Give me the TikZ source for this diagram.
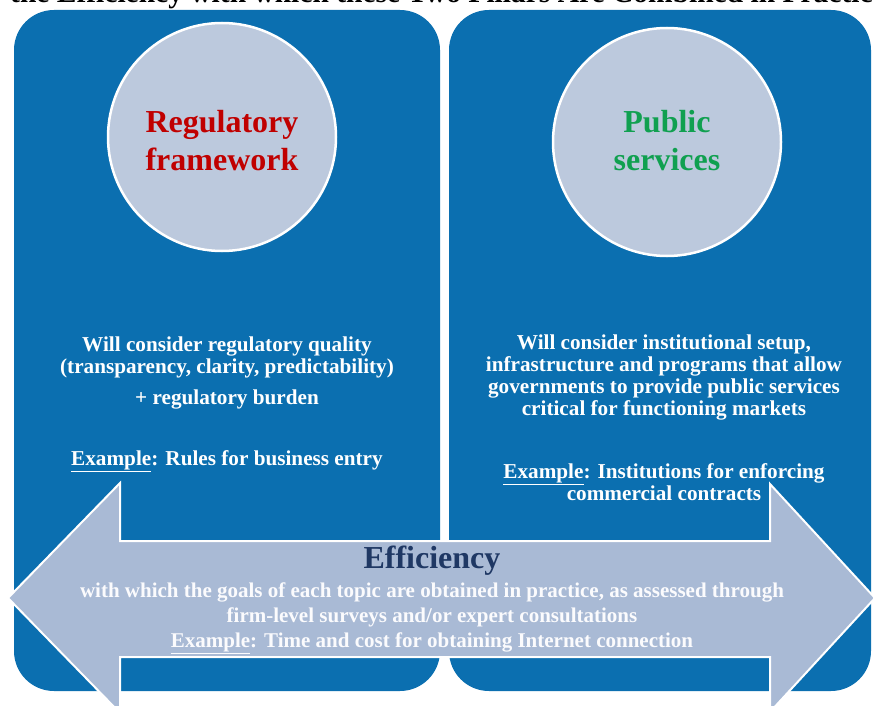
\documentclass[tikz,border=0pt]{standalone}
\usepackage{fontspec}
\setmainfont{Liberation Serif}
\usepackage{xcolor}
\definecolor{panelblue}{HTML}{0B6FB0}
\definecolor{disc}{HTML}{BCC9DD}
\definecolor{arrowfill}{HTML}{A9BAD5}
\definecolor{navy}{HTML}{1F3864}
\definecolor{regred}{HTML}{C00000}
\definecolor{pubgreen}{HTML}{10A050}
\tikzset{
  panel/.style={fill=panelblue, rounded corners=40pt},
  pillar/.style={circle, fill=disc, draw=white, line width=2.5pt, minimum size=228pt, inner sep=0pt},
  pillarname/.style={align=center, font=\bfseries\fontsize{32}{38}\selectfont},
  body/.style={text=white, align=center, font=\bfseries\fontsize{21.2}{22}\selectfont},
  effarrow/.style={fill=arrowfill, draw=white, line width=2pt, line join=miter},
  effbody/.style={text=white!95!arrowfill, align=center, font=\bfseries\fontsize{21}{25}\selectfont},
}

\begin{document}
\begin{tikzpicture}[x=1pt, y=-1pt]
  \useasboundingbox (0,0) rectangle (873,706);
  \begin{scope}
  \clip (0,0) rectangle (873,706);

  % heading, cut by the top edge
  \node[anchor=base west, inner sep=0pt, font=\bfseries\fontsize{29.5}{29.5}\selectfont] (head) at (10,3)
    {the Efficiency with which these Two Pillars Are Combined in Practice};

  % the two pillars
  \fill[panel] (14,10) rectangle (440,691);
  \fill[panel] (449,10) rectangle (871,691);

  \node[pillar] (reg) at (222,137) {};
  \node[pillar] (pub) at (667,142) {};
  \node[pillarname, text=regred] (regname) at (222,141) {Regulatory\\framework};
  \node[pillarname, text=pubgreen] (pubname) at (667,141) {Public\\services};

  \node[body] (regq) at (227,357) {Will consider regulatory quality\\(transparency, clarity, predictability)};
  \node[body] (regb) at (227,399) {+ regulatory burden};
  \node[body] (regex) at (227,461) {\underline{Example}: Rules for business entry};

  \node[body] (pubq) at (664,377) {Will consider institutional setup,\\infrastructure and programs that allow\\governments to provide public services\\critical for functioning markets};
  \node[body] (pubex) at (664,482) {\underline{Example}: Institutions for enforcing\\commercial contracts};

  % efficiency arrow across both pillars
  \coordinate (LT) at (8,598);     % left tip
  \coordinate (RT) at (875,598);   % right tip
  \draw[effarrow] (LT) -- (120,483) -- (120,541) -- (770,541) -- (770,484)
    -- (RT) -- (770,712) -- (770,657) -- (120,657) -- (120,713) -- cycle;

  \node[text=navy, font=\bfseries\fontsize{32}{32}\selectfont] (eff) at (432,561) {Efficiency};
  \node[effbody] (effq) at (432,618) {with which the goals of each topic are obtained in practice, as assessed through\\firm-level surveys and/or expert consultations\\\underline{Example}: Time and cost for obtaining Internet connection};
  \end{scope}
\end{tikzpicture}
\end{document}
